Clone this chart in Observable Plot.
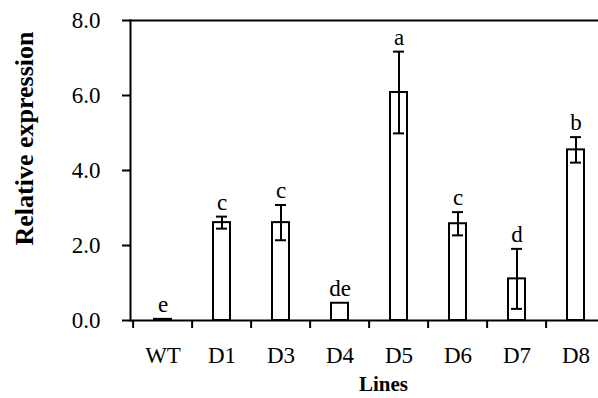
<!DOCTYPE html>
<html>
<head>
<meta charset="utf-8">
<script src="https://cdn.jsdelivr.net/npm/d3@7"></script>
<script src="https://cdn.jsdelivr.net/npm/@observablehq/plot@0.6"></script>
<style>
  html, body { margin: 0; padding: 0; background: white; }
  svg { display: block; }
</style>
</head>
<body>
<div id="chart"></div>
<script>
const lines = ["WT", "D1", "D3", "D4", "D5", "D6", "D7", "D8"];
const means = [0.03, 2.61, 2.61, 0.46, 6.08, 2.58, 1.11, 4.55];
const sds = [0, 0.16, 0.47, 0, 1.09, 0.31, 0.80, 0.34];
const letters = ["e", "c", "c", "de", "a", "c", "d", "b"];
const yTicks = [0, 2, 4, 6, 8];

const data = lines.map((l, i) => ({line: l, mean: means[i], sd: sds[i], letter: letters[i]}));
const step = (608 - 130) / lines.length;

const chart = Plot.plot({
  width: 598,
  height: 398,
  marginLeft: 130,
  marginRight: 0,
  marginTop: 20,
  marginBottom: 78,
  x: {domain: lines, range: [130, 608], padding: 0, label: null},
  y: {domain: [0, 8], label: null},
  style: {fontFamily: "Liberation Serif", fontSize: "23px", color: "black", background: "white"},
  marks: [
    Plot.barY(data, {x: "line", y: "mean", fill: "white", stroke: "black", strokeWidth: 2, insetLeft: 21, insetRight: 21}),
    Plot.ruleX(data.filter(d => d.sd > 0), {x: "line", y1: d => d.mean - d.sd, y2: d => d.mean + d.sd, strokeWidth: 2}),
    Plot.tickY(data.filter(d => d.sd > 0), {x: "line", y: d => d.mean + d.sd, strokeWidth: 2, insetLeft: 24, insetRight: 24}),
    Plot.tickY(data.filter(d => d.sd > 0), {x: "line", y: d => d.mean - d.sd, strokeWidth: 2, insetLeft: 24, insetRight: 24}),
    Plot.text(data, {x: "line", y: d => d.mean + d.sd, text: "letter", lineAnchor: "bottom", dy: -7, fontSize: 23}),
    Plot.frame({anchor: "left", strokeWidth: 2}),
    Plot.frame({anchor: "top", strokeWidth: 2}),
    Plot.ruleY([0], {strokeWidth: 2}),
    Plot.axisY({ticks: yTicks, tickFormat: d => d.toFixed(1), tickSize: 8, tickPadding: 22, strokeWidth: 2, label: null, fontSize: 23}),
    Plot.axisX({tickSize: 8, tickFormat: () => "", dx: -step / 2, strokeWidth: 2, label: null}),
    Plot.axisX({tickSize: 0, tickPadding: 26, label: null, fontSize: 23}),
    Plot.text(["Relative expression"], {frameAnchor: "left", textAnchor: "middle", rotate: -90, dx: -106, dy: -32, fontWeight: "bold", fontSize: 26}),
    Plot.text(["Lines"], {frameAnchor: "bottom", textAnchor: "middle", lineAnchor: "middle", dx: 19, dy: 64, fontWeight: "bold", fontSize: 21})
  ]
});
document.getElementById("chart").appendChild(chart);
</script>
</body>
</html>
